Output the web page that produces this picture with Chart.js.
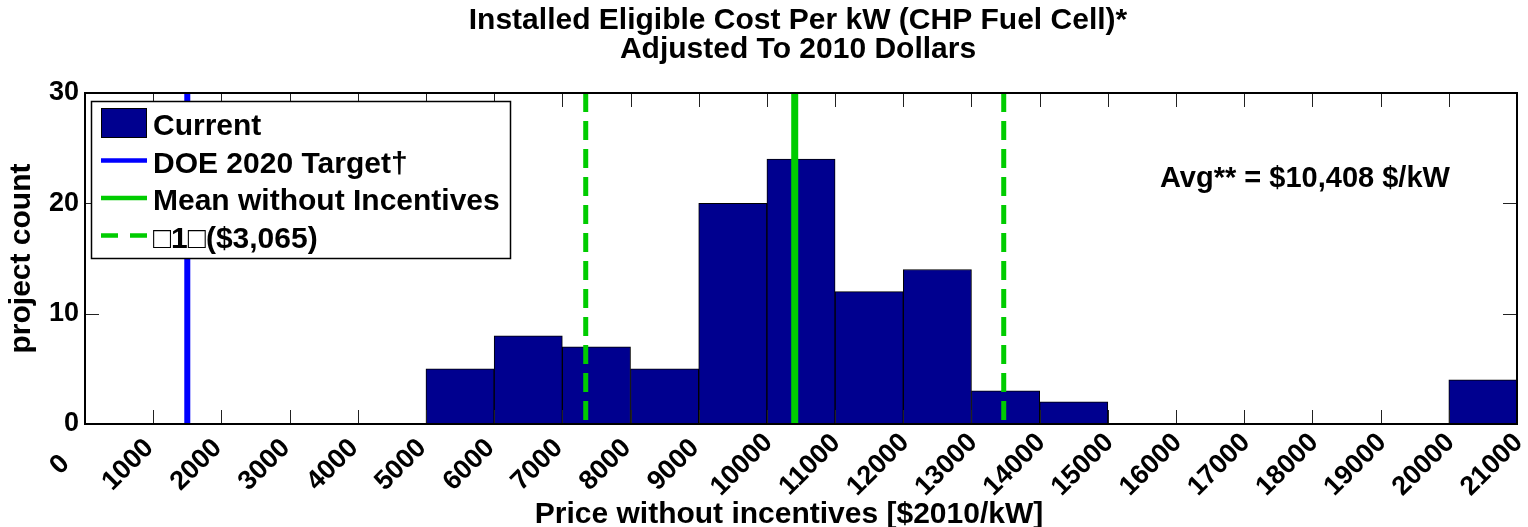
<!DOCTYPE html>
<html>
<head>
<meta charset="utf-8">
<script src="https://cdn.jsdelivr.net/npm/chart.js@4"></script>
<style>
  html, body { margin: 0; padding: 0; background: #fff; }
</style>
</head>
<body>
<canvas id="hist" width="1528" height="527"></canvas>
<script>
// histogram bins (lower edge, $2010/kW) and project counts
const binStart = [5000, 6000, 7000, 8000, 9000, 10000, 11000, 12000, 13000, 14000, 20000];
const binCount = [5, 8, 7, 5, 20, 24, 12, 14, 3, 2, 4];
const binWidth = 1000;

// reference lines
const doeTarget = 1500;
const meanPrice = 10408;
const stdPrice = 3065;

const titleLines = ['Installed Eligible Cost Per kW (CHP Fuel Cell)*', 'Adjusted To 2010 Dollars'];
const avgLabel = 'Avg** = $10,408 $/kW';
const xTitle = 'Price without incentives [$2010/kW]';
const yTitle = 'project count';

const FONT = '"Liberation Sans", Arial, Helvetica, sans-serif';
const barColor = '#00008f';
const green = '#00cc00';

function vline(x) {
  return [{ x: x, y: 30 }, { x: x, y: 0 }];
}

// frame, inward ticks, tick labels, titles and the boxed legend
const decorations = {
  id: 'decorations',
  afterDatasetsDraw(chart) {
    const { ctx, chartArea: a, scales: { x, y } } = chart;
    ctx.save();

    ctx.strokeStyle = '#222';
    ctx.lineWidth = 1;
    ctx.beginPath();
    x.ticks.forEach(t => {
      const px = Math.round(x.getPixelForValue(t.value)) + 0.5;
      ctx.moveTo(px, a.bottom); ctx.lineTo(px, a.bottom - 14);
      ctx.moveTo(px, a.top); ctx.lineTo(px, a.top + 14);
    });
    y.ticks.forEach(t => {
      const py = Math.round(y.getPixelForValue(t.value)) + 0.5;
      ctx.moveTo(a.left, py); ctx.lineTo(a.left + 14, py);
      ctx.moveTo(a.right, py); ctx.lineTo(a.right - 14, py);
    });
    ctx.stroke();

    ctx.strokeStyle = '#000';
    ctx.lineWidth = 2;
    ctx.strokeRect(a.left, a.top, a.right - a.left, a.bottom - a.top);

    ctx.fillStyle = '#000';
    ctx.textAlign = 'center';

    // two-line title over the axes
    ctx.font = 'bold 30px ' + FONT;
    ctx.textBaseline = 'middle';
    const cx = (a.left + a.right) / 2 - 3;
    titleLines.forEach((line, i) => ctx.fillText(line, cx, 21 + i * 28.5));

    // rotated x tick labels
    ctx.font = 'bold 27px ' + FONT;
    x.ticks.forEach(t => {
      const px = x.getPixelForValue(t.value);
      ctx.save();
      ctx.translate(px - 25, a.bottom + 41);
      ctx.rotate(-Math.PI / 4);
      ctx.fillText(String(t.value), 0, 0);
      ctx.restore();
    });

    // axis titles
    ctx.font = 'bold 30px ' + FONT;
    ctx.textBaseline = 'alphabetic';
    ctx.fillText(xTitle, 789, 523);
    ctx.save();
    ctx.translate(30, (a.top + a.bottom) / 2);
    ctx.rotate(-Math.PI / 2);
    ctx.fillText(yTitle, 0, 0);
    ctx.restore();

    // average annotation
    ctx.font = 'bold 29px ' + FONT;
    ctx.textAlign = 'left';
    ctx.fillText(avgLabel, 1160, 187);

    // legend
    const lx = 91.5, ly = 101.5, lw = 419, lh = 157;
    ctx.fillStyle = '#fff';
    ctx.fillRect(lx, ly, lw, lh);
    ctx.strokeStyle = '#000';
    ctx.lineWidth = 1.5;
    ctx.strokeRect(lx, ly, lw, lh);

    ctx.font = 'bold 30px ' + FONT;
    chart.data.datasets.forEach((ds, i) => {
      const cy = 123 + i * 37.5;
      if (ds.type === 'bar') {
        ctx.fillStyle = ds.backgroundColor;
        ctx.fillRect(101, cy - 15, 46, 30);
        ctx.strokeStyle = '#000';
        ctx.lineWidth = 1;
        ctx.strokeRect(101.5, cy - 14.5, 45, 29);
      } else {
        ctx.strokeStyle = ds.borderColor;
        ctx.lineWidth = 4.5;
        ctx.setLineDash(ds.borderDash ? [17, 12] : []);
        ctx.beginPath();
        ctx.moveTo(101, cy);
        ctx.lineTo(147, cy);
        ctx.stroke();
        ctx.setLineDash([]);
      }
      ctx.fillStyle = '#000';
      ctx.fillText(ds.label, 153, cy + 12);
    });

    ctx.restore();
  }
};

new Chart(document.getElementById('hist'), {
  type: 'bar',
  data: {
    datasets: [
      {
        type: 'bar',
        label: 'Current',
        data: binStart.map((s, i) => ({ x: s + binWidth / 2, y: binCount[i] })),
        backgroundColor: barColor,
        borderColor: '#000',
        borderWidth: 1,
        borderSkipped: false,
        barPercentage: 1,
        categoryPercentage: 1,
        order: 10
      },
      {
        type: 'line',
        label: 'DOE 2020 Target\u2020',
        data: vline(doeTarget),
        borderColor: '#0000ff',
        borderWidth: 6,
        pointRadius: 0,
        order: 3
      },
      {
        type: 'line',
        label: 'Mean without Incentives',
        data: vline(meanPrice),
        borderColor: green,
        borderWidth: 7,
        pointRadius: 0,
        order: 2
      },
      {
        type: 'line',
        label: '\u25A11\u25A1($3,065)',
        data: vline(meanPrice - stdPrice).concat([{ x: meanPrice, y: null }], vline(meanPrice + stdPrice)),
        borderColor: green,
        borderWidth: 5,
        borderDash: [19, 9],
        pointRadius: 0,
        spanGaps: false,
        order: 1
      }
    ]
  },
  options: {
    responsive: false,
    animation: false,
    layout: { padding: { left: 0, right: 11, top: 93, bottom: 0 } },
    plugins: {
      legend: { display: false },
      tooltip: { enabled: false },
      title: { display: false }
    },
    scales: {
      x: {
        type: 'linear',
        min: 0,
        max: 21000,
        offset: false,
        grid: { display: false, drawTicks: false },
        border: { display: false },
        ticks: { stepSize: 1000, display: false },
        afterFit(s) { s.height = 103; }
      },
      y: {
        min: 0,
        max: 30,
        grid: { display: false, drawTicks: false },
        border: { display: false },
        ticks: {
          stepSize: 10,
          padding: 6,
          color: '#000',
          font: { family: FONT, size: 27, weight: 'bold' }
        },
        afterFit(s) { s.width = 85; }
      }
    }
  },
  plugins: [decorations]
});
</script>
</body>
</html>
